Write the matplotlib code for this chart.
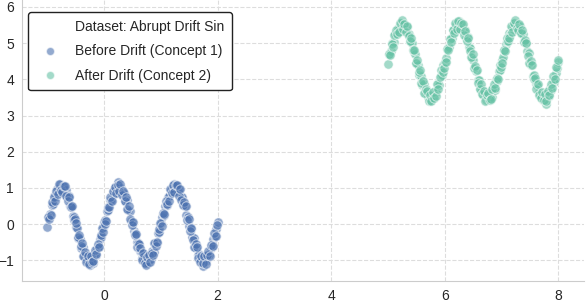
"""
Abrupt drift on a sine stream: concept 1 vs concept 2 scatter.
"""

import matplotlib
matplotlib.use("Agg")
import matplotlib.pyplot as plt
from matplotlib.lines import Line2D
import seaborn as sns

# Concept 1 (before drift) -- two interleaved passes
before_x = [
    -1.000, -0.975, -0.950, -0.925, -0.900, -0.875, -0.850, -0.825, -0.800, -0.775,
    -0.750, -0.725, -0.700, -0.675, -0.650, -0.625, -0.600, -0.575, -0.550, -0.525,
    -0.500, -0.475, -0.450, -0.425, -0.400, -0.375, -0.350, -0.325, -0.300, -0.275,
    -0.250, -0.225, -0.200, -0.175, -0.150, -0.125, -0.100, -0.075, -0.050, -0.025,
    0.000, 0.025, 0.050, 0.075, 0.100, 0.125, 0.150, 0.175, 0.200, 0.225,
    0.250, 0.275, 0.300, 0.325, 0.350, 0.375, 0.400, 0.425, 0.450, 0.475,
    0.500, 0.525, 0.550, 0.575, 0.600, 0.625, 0.650, 0.675, 0.700, 0.725,
    0.750, 0.775, 0.800, 0.825, 0.850, 0.875, 0.900, 0.925, 0.950, 0.975,
    1.000, 1.025, 1.050, 1.075, 1.100, 1.125, 1.150, 1.175, 1.200, 1.225,
    1.250, 1.275, 1.300, 1.325, 1.350, 1.375, 1.400, 1.425, 1.450, 1.475,
    1.500, 1.525, 1.550, 1.575, 1.600, 1.625, 1.650, 1.675, 1.700, 1.725,
    1.750, 1.775, 1.800, 1.825, 1.850, 1.875, 1.900, 1.925, 1.950, 1.975,
    2.000,
]
before_y = [
    -0.08, 0.21, 0.27, 0.52, 0.55, 0.78, 0.76, 0.97, 0.89, 1.10,
    0.93, 1.05, 0.87, 0.95, 0.74, 0.79, 0.51, 0.49, 0.22, 0.20,
    -0.09, -0.10, -0.38, -0.41, -0.65, -0.64, -0.88, -0.84, -1.02, -0.93,
    -1.14, -0.95, -1.06, -0.83, -0.86, -0.65, -0.62, -0.40, -0.36, -0.10,
    0.06, 0.11, 0.36, 0.40, 0.66, 0.63, 0.86, 0.82, 1.03, 0.94,
    1.17, 0.92, 1.01, 0.83, 0.86, 0.64, 0.66, 0.39, 0.37, 0.10,
    0.05, -0.20, -0.26, -0.49, -0.53, -0.75, -0.74, -0.94, -0.87, -1.06,
    -0.94, -1.08, -0.90, -0.97, -0.75, -0.78, -0.53, -0.51, -0.25, -0.22,
    0.03, 0.19, 0.25, 0.49, 0.53, 0.74, 0.77, 0.93, 0.90, 1.12,
    0.96, 1.04, 0.89, 0.96, 0.76, 0.74, 0.55, 0.50, 0.26, 0.21,
    -0.05, -0.13, -0.35, -0.39, -0.62, -0.66, -0.86, -0.83, -1.01, -0.92,
    -1.15, -0.95, -1.03, -0.85, -0.84, -0.66, -0.60, -0.42, -0.34, -0.13,
    0.05,
]
before_x2 = [
    -0.9875, -0.9625, -0.9375, -0.9125, -0.8875, -0.8625, -0.8375, -0.8125, -0.7875, -0.7625,
    -0.7375, -0.7125, -0.6875, -0.6625, -0.6375, -0.6125, -0.5875, -0.5625, -0.5375, -0.5125,
    -0.4875, -0.4625, -0.4375, -0.4125, -0.3875, -0.3625, -0.3375, -0.3125, -0.2875, -0.2625,
    -0.2375, -0.2125, -0.1875, -0.1625, -0.1375, -0.1125, -0.0875, -0.0625, -0.0375, -0.0125,
    0.0125, 0.0375, 0.0625, 0.0875, 0.1125, 0.1375, 0.1625, 0.1875, 0.2125, 0.2375,
    0.2625, 0.2875, 0.3125, 0.3375, 0.3625, 0.3875, 0.4125, 0.4375, 0.4625, 0.4875,
    0.5125, 0.5375, 0.5625, 0.5875, 0.6125, 0.6375, 0.6625, 0.6875, 0.7125, 0.7375,
    0.7625, 0.7875, 0.8125, 0.8375, 0.8625, 0.8875, 0.9125, 0.9375, 0.9625, 0.9875,
    1.0125, 1.0375, 1.0625, 1.0875, 1.1125, 1.1375, 1.1625, 1.1875, 1.2125, 1.2375,
    1.2625, 1.2875, 1.3125, 1.3375, 1.3625, 1.3875, 1.4125, 1.4375, 1.4625, 1.4875,
    1.5125, 1.5375, 1.5625, 1.5875, 1.6125, 1.6375, 1.6625, 1.6875, 1.7125, 1.7375,
    1.7625, 1.7875, 1.8125, 1.8375, 1.8625, 1.8875, 1.9125, 1.9375, 1.9625, 1.9875,
]
before_y2 = [
    0.20, 0.14, 0.25, 0.60, 0.76, 0.64, 0.91, 0.82, 1.10, 0.93,
    0.89, 1.06, 1.04, 0.77, 0.63, 0.75, 0.46, 0.49, 0.11, 0.15,
    0.02, -0.35, -0.30, -0.61, -0.52, -0.87, -0.78, -1.05, -0.88, -1.10,
    -0.88, -1.05, -1.03, -0.72, -0.83, -0.55, -0.64, -0.29, -0.12, -0.21,
    0.00, 0.10, 0.48, 0.46, 0.76, 0.64, 0.92, 1.02, 0.85, 1.08,
    0.91, 1.10, 0.81, 0.92, 0.63, 0.74, 0.42, 0.50, 0.15, -0.03,
    0.05, -0.30, -0.28, -0.64, -0.56, -0.65, -0.98, -0.80, -1.06, -1.13,
    -0.92, -0.86, -1.04, -0.79, -0.86, -0.52, -0.59, -0.49, -0.14, 0.04,
    -0.05, 0.32, 0.28, 0.64, 0.57, 0.65, 0.98, 0.85, 1.07, 0.88,
    1.09, 1.08, 0.79, 0.97, 0.67, 0.52, 0.60, 0.49, 0.11, 0.14,
    -0.18, -0.10, -0.45, -0.63, -0.56, -0.64, -0.93, -1.05, -0.87, -1.06,
    -0.89, -1.09, -0.85, -0.75, -0.88, -0.57, -0.61, -0.25, -0.34, -0.01,
]

# Concept 2 (after drift)
after_x = [
    5.000, 5.025, 5.050, 5.075, 5.100, 5.125, 5.150, 5.175, 5.200, 5.225,
    5.250, 5.275, 5.300, 5.325, 5.350, 5.375, 5.400, 5.425, 5.450, 5.475,
    5.500, 5.525, 5.550, 5.575, 5.600, 5.625, 5.650, 5.675, 5.700, 5.725,
    5.750, 5.775, 5.800, 5.825, 5.850, 5.875, 5.900, 5.925, 5.950, 5.975,
    6.000, 6.025, 6.050, 6.075, 6.100, 6.125, 6.150, 6.175, 6.200, 6.225,
    6.250, 6.275, 6.300, 6.325, 6.350, 6.375, 6.400, 6.425, 6.450, 6.475,
    6.500, 6.525, 6.550, 6.575, 6.600, 6.625, 6.650, 6.675, 6.700, 6.725,
    6.750, 6.775, 6.800, 6.825, 6.850, 6.875, 6.900, 6.925, 6.950, 6.975,
    7.000, 7.025, 7.050, 7.075, 7.100, 7.125, 7.150, 7.175, 7.200, 7.225,
    7.250, 7.275, 7.300, 7.325, 7.350, 7.375, 7.400, 7.425, 7.450, 7.475,
    7.500, 7.525, 7.550, 7.575, 7.600, 7.625, 7.650, 7.675, 7.700, 7.725,
    7.750, 7.775, 7.800, 7.825, 7.850, 7.875, 7.900, 7.925, 7.950, 7.975,
    8.000,
]
after_y = [
    4.42, 4.71, 4.77, 4.99, 5.04, 5.25, 5.27, 5.42, 5.40, 5.56,
    5.45, 5.52, 5.38, 5.44, 5.24, 5.26, 5.03, 5.00, 4.75, 4.71,
    4.44, 4.40, 4.13, 4.10, 3.85, 3.86, 3.62, 3.66, 3.50, 3.61,
    3.42, 3.58, 3.48, 3.68, 3.64, 3.87, 3.84, 4.10, 4.12, 4.40,
    4.47, 4.60, 4.86, 4.90, 5.15, 5.13, 5.36, 5.34, 5.52, 5.44,
    5.62, 5.45, 5.50, 5.33, 5.37, 5.14, 5.16, 4.88, 4.87, 4.60,
    4.53, 4.31, 4.24, 3.99, 3.97, 3.74, 3.73, 3.56, 3.60, 3.43,
    3.55, 3.46, 3.60, 3.50, 3.76, 3.70, 3.98, 3.96, 4.23, 4.27,
    4.53, 4.62, 4.80, 4.97, 5.05, 5.27, 5.21, 5.44, 5.39, 5.56,
    5.43, 5.53, 5.40, 5.46, 5.26, 5.24, 5.05, 4.99, 4.77, 4.73,
    4.45, 4.39, 4.10, 4.12, 3.87, 3.84, 3.66, 3.58, 3.52, 3.44,
    3.55, 3.32, 3.58, 3.55, 3.77, 3.71, 3.97, 3.92, 4.18, 4.30,
    4.47,
]
after_x2 = [
    5.0125, 5.0375, 5.0625, 5.0875, 5.1125, 5.1375, 5.1625, 5.1875, 5.2125, 5.2375,
    5.2625, 5.2875, 5.3125, 5.3375, 5.3625, 5.3875, 5.4125, 5.4375, 5.4625, 5.4875,
    5.5125, 5.5375, 5.5625, 5.5875, 5.6125, 5.6375, 5.6625, 5.6875, 5.7125, 5.7375,
    5.7625, 5.7875, 5.8125, 5.8375, 5.8625, 5.8875, 5.9125, 5.9375, 5.9625, 5.9875,
    6.0125, 6.0375, 6.0625, 6.0875, 6.1125, 6.1375, 6.1625, 6.1875, 6.2125, 6.2375,
    6.2625, 6.2875, 6.3125, 6.3375, 6.3625, 6.3875, 6.4125, 6.4375, 6.4625, 6.4875,
    6.5125, 6.5375, 6.5625, 6.5875, 6.6125, 6.6375, 6.6625, 6.6875, 6.7125, 6.7375,
    6.7625, 6.7875, 6.8125, 6.8375, 6.8625, 6.8875, 6.9125, 6.9375, 6.9625, 6.9875,
    7.0125, 7.0375, 7.0625, 7.0875, 7.1125, 7.1375, 7.1625, 7.1875, 7.2125, 7.2375,
    7.2625, 7.2875, 7.3125, 7.3375, 7.3625, 7.3875, 7.4125, 7.4375, 7.4625, 7.4875,
    7.5125, 7.5375, 7.5625, 7.5875, 7.6125, 7.6375, 7.6625, 7.6875, 7.7125, 7.7375,
    7.7625, 7.7875, 7.8125, 7.8375, 7.8625, 7.8875, 7.9125, 7.9375, 7.9625, 7.9875,
]
after_y2 = [
    4.70, 4.67, 4.98, 4.89, 5.22, 5.37, 5.26, 5.30, 5.55, 5.63,
    5.40, 5.53, 5.31, 5.47, 5.19, 5.05, 5.14, 4.80, 4.82, 4.45,
    4.53, 4.20, 4.25, 3.89, 3.95, 3.62, 3.73, 3.69, 3.40, 3.57,
    3.40, 3.65, 3.49, 3.54, 3.87, 3.73, 4.07, 4.25, 4.19, 4.31,
    4.48, 4.85, 4.80, 5.11, 5.02, 5.37, 5.28, 5.55, 5.38, 5.60,
    5.38, 5.55, 5.53, 5.22, 5.33, 5.05, 5.14, 4.79, 4.62, 4.71,
    4.30, 4.36, 4.25, 3.90, 3.74, 3.86, 3.59, 3.68, 3.40, 3.57,
    3.61, 3.44, 3.46, 3.73, 3.87, 3.75, 4.04, 4.01, 4.39, 4.35,
    4.45, 4.80, 4.78, 5.14, 5.06, 5.15, 5.48, 5.30, 5.56, 5.63,
    5.42, 5.36, 5.54, 5.29, 5.36, 5.02, 5.09, 4.99, 4.64, 4.46,
    4.50, 4.40, 4.02, 4.04, 3.74, 3.86, 3.58, 3.48, 3.65, 3.42,
    3.59, 3.40, 3.69, 3.58, 3.87, 3.76, 4.08, 4.00, 4.35, 4.53,
]

dataset_name = "Abrupt Drift Sin"
labels = ["Before Drift (Concept 1)", "After Drift (Concept 2)"]
colors = ["#4c72b0", "#66c2a5"]
x_ticks = [0, 2, 4, 6, 8]
y_ticks = [-1, 0, 1, 2, 3, 4, 5, 6]

sns.set_style("whitegrid", {"grid.linestyle": "--", "grid.color": "#dddddd",
                            "axes.edgecolor": "#cccccc"})
plt.rcParams["font.family"] = ["Liberation Sans", "DejaVu Sans"]

fig = plt.figure(figsize=(5.87, 3.02), dpi=100)
W, H = 587, 302
ax = fig.add_axes([21.7 / W, 21 / H, (584 - 21.7) / W, 281 / H])

ax.scatter(before_x + before_x2, before_y + before_y2, s=46, color=colors[0],
           alpha=0.6, edgecolor="white", linewidth=0.7, zorder=3)
ax.scatter(after_x + after_x2, after_y + after_y2, s=46, color=colors[1],
           alpha=0.6, edgecolor="white", linewidth=0.7, zorder=3)

ax.set_xlim(-1.45, 8.45)
ax.set_ylim(-1.57, 6.19)
ax.set_xticks(x_ticks)
ax.set_yticks(y_ticks)
ax.tick_params(labelsize=10, colors="#262626", pad=2)
for side in ["top", "right"]:
    ax.spines[side].set_visible(False)

handles = [
    Line2D([], [], linestyle="none", marker=None),
    Line2D([], [], linestyle="none", marker="o", markersize=6,
           markerfacecolor=colors[0], markeredgecolor="white", alpha=0.6),
    Line2D([], [], linestyle="none", marker="o", markersize=6,
           markerfacecolor=colors[1], markeredgecolor="white", alpha=0.6),
]
leg = ax.legend(handles, ["Dataset: " + dataset_name] + labels,
                loc="upper left", bbox_to_anchor=(0.0117, 0.956),
                borderaxespad=0, fontsize=10, frameon=True, fancybox=True,
                labelspacing=0.75, borderpad=0.55)
leg.get_frame().set_edgecolor("#222222")
leg.get_frame().set_linewidth(1.0)
leg.get_frame().set_alpha(1.0)

fig.savefig("out.png", dpi=100)
